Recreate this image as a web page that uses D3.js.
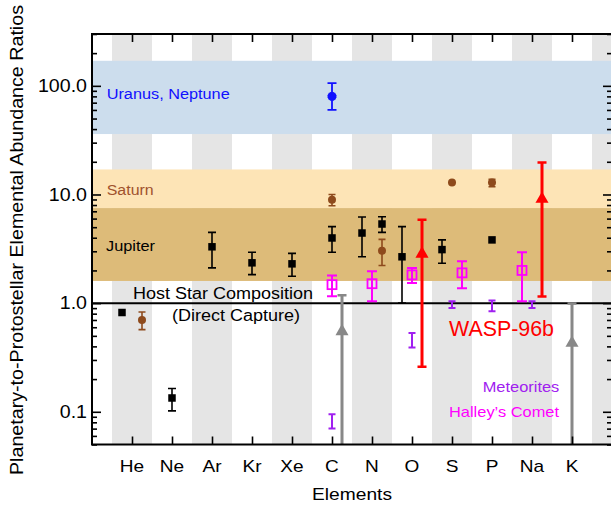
<!DOCTYPE html>
<html><head><meta charset="utf-8">
<script src="https://cdn.jsdelivr.net/npm/d3@7"></script>
<style>
body{margin:0;background:#fff}
svg{display:block}
text{font-family:"Liberation Sans",Arial,Helvetica,sans-serif}
</style>
</head><body>
<svg id="c" width="611" height="505"></svg>
<script>
// ---------------- DATA ----------------
const elements = ["He","Ne","Ar","Kr","Xe","C","N","O","S","P","Na","K"];
const yTickValues = [0.1, 1, 10, 100];
const yTickLabels = ["0.1","1.0","10.0","100.0"];

// Reference bands (low, high)
const bandNames = ["Uranus, Neptune","Saturn","Jupiter"];
const bandLow  = [36, 7.5, 1.6];
const bandHigh = [170, 17, 7.5];

// Jupiter (Galileo etc.)
const jupiterEl  = ["He","Ne","Ar","Kr","Xe","C","N","O","S","P"];
const jupiterVal = [0.82,0.134,3.3,2.35,2.3,3.98,4.42,2.67,3.11,3.82];
const jupiterLo  = [null,0.102,2.11,1.83,1.77,2.94,2.67,1.0,2.33,null];
const jupiterHi  = [null,0.164,4.48,2.94,2.87,5.06,6.21,5.06,3.82,null];

// Jupiter (Juno) nitrogen
const junoEl  = ["N"];
const junoVal = [5.35];
const junoLo  = [4.48];
const junoHi  = [6.24];

// Saturn
const saturnEl  = ["He","C","N","S","P"];
const saturnVal = [0.70,8.94,3.04,12.9,12.9];
const saturnLo  = [0.57,7.87,2.22,null,11.8];
const saturnHi  = [0.83,10.0,3.86,null,13.8];

// Uranus, Neptune
const iceEl  = ["C"];
const iceVal = [80];
const iceLo  = [60];
const iceHi  = [106];

// Halley's Comet
const halleyEl  = ["C","N","O","S","Na"];
const halleyVal = [1.48,1.51,1.82,1.90,2.0];
const halleyLo  = [1.16,1.04,1.53,1.37,1.04];
const halleyHi  = [1.80,1.97,2.11,2.43,2.94];

// Meteorites
const meteorEl  = ["C","O","S","P","Na"];
const meteorVal = [0.083,0.46,0.97,0.93,0.97];
const meteorLo  = [0.070,0.39,0.90,0.84,0.90];
const meteorHi  = [0.095,0.53,1.04,1.06,1.04];

// WASP-96b
const waspEl  = ["O","Na"];
const waspVal = [2.84,9.07];
const waspLo  = [0.26,1.15];
const waspHi  = [5.86,19.7];

// WASP-96b upper-limit style constraints (grey)
const limitEl  = ["C","K"];
const limitVal = [0.55,0.43];
const limitLo  = [0.01,0.01];
const limitHi  = [1.18,0.99];

// ---------------- LAYOUT / STYLE ----------------
const svg = d3.select("#c");
const plot = {left:92, right:612, top:34, bottom:444.5};

const x = d3.scalePoint().domain(elements).range([plot.left, plot.right]).padding(1);
const step = x.step();
const y = d3.scaleLog().domain([0.05, 300]).range([plot.bottom, plot.top]);

const dodgePx = step / 4;
const dodge = {
  jupiter:{He:-1,N:-1,O:-1,S:-1},
  juno:{N:1},
  saturn:{He:1,N:1},
  ice:{}, halley:{S:1,Na:-1}, meteor:{},
  wasp:{O:1,Na:1}, limit:{C:1}
};

svg.append("defs").append("clipPath").attr("id","clip")
  .append("rect").attr("x",plot.left).attr("y",plot.top)
  .attr("width",plot.right-plot.left).attr("height",plot.bottom-plot.top);

const gPlot = svg.append("g").attr("clip-path","url(#clip)");

// grey stripes
const stripeIdx = d3.range(0, elements.length + 1, 2);
gPlot.selectAll("rect.stripe").data(stripeIdx).join("rect")
  .attr("class","stripe")
  .attr("x", i => x(elements[0]) + i*step - step/2)
  .attr("width", step)
  .attr("y", plot.top).attr("height", plot.bottom-plot.top)
  .attr("fill","#e5e5e5");

// bands
const bandColors = ["#ccdded","#fde4b6","#ddbb79"];
gPlot.selectAll("rect.band").data(bandNames).join("rect")
  .attr("class","band")
  .attr("x", plot.left).attr("width", plot.right-plot.left)
  .attr("y", (d,i) => y(bandHigh[i]))
  .attr("height", (d,i) => y(bandLow[i]) - y(bandHigh[i]))
  .attr("fill", (d,i) => bandColors[i]);

// host star line
gPlot.append("line")
  .attr("x1",plot.left).attr("x2",plot.right)
  .attr("y1",y(1)).attr("y2",y(1))
  .attr("stroke","#000").attr("stroke-width",2);

// series drawing
function drawSeries(key, els, vals, lo, hi, st){
  const g = gPlot.append("g");
  els.forEach((e,i) => {
    const cx = x(e) + (dodge[key][e] || 0) * dodgePx;
    const cy = y(vals[i]);
    if (lo[i] != null && hi[i] != null){
      g.append("line").attr("x1",cx).attr("x2",cx)
        .attr("y1",y(lo[i])).attr("y2",y(hi[i]))
        .attr("stroke",st.color).attr("stroke-width",st.lw);
      const caps = st.noLowCap ? [hi[i]] : [lo[i], hi[i]];
      caps.forEach(v => g.append("line")
        .attr("x1",cx-st.cap/2).attr("x2",cx+st.cap/2)
        .attr("y1",y(v)).attr("y2",y(v))
        .attr("stroke",st.color).attr("stroke-width",st.capW || st.lw));
    }
    const m = st.marker;
    if (m === "square"){
      g.append("rect").attr("x",cx-st.ms/2).attr("y",cy-st.ms/2)
        .attr("width",st.ms).attr("height",st.ms).attr("fill",st.color);
    } else if (m === "open"){
      g.append("rect").attr("x",cx-st.ms/2).attr("y",cy-st.ms/2)
        .attr("width",st.ms).attr("height",st.ms).attr("fill","none")
        .attr("stroke",st.color).attr("stroke-width",1.8);
    } else if (m === "circle"){
      g.append("circle").attr("cx",cx).attr("cy",cy).attr("r",st.ms/2).attr("fill",st.color);
    } else if (m === "triangle"){
      g.append("path").attr("d", d3.symbol(d3.symbolTriangle, st.ms)())
        .attr("transform",`translate(${cx},${cy})`).attr("fill",st.color);
    } else if (m === "asterisk"){
      g.append("path").attr("d", d3.symbol(d3.symbolAsterisk, st.ms)())
        .attr("transform",`translate(${cx},${cy})`).attr("fill","none")
        .attr("stroke",st.color).attr("stroke-width",3);
      g.append("path").attr("d", d3.symbol(d3.symbolAsterisk, st.ms)())
        .attr("transform",`translate(${cx},${cy}) rotate(90)`).attr("fill","none")
        .attr("stroke",st.color).attr("stroke-width",2);
    }
  });
}

drawSeries("ice", iceEl, iceVal, iceLo, iceHi, {color:"#1010ff", lw:1.8, cap:9, marker:"asterisk", ms:55});
drawSeries("saturn", saturnEl, saturnVal, saturnLo, saturnHi, {color:"#8e4a1c", lw:1.6, cap:7, marker:"circle", ms:8});
drawSeries("jupiter", jupiterEl, jupiterVal, jupiterLo, jupiterHi, {color:"#000", lw:1.6, cap:8, marker:"square", ms:7.5});
drawSeries("juno", junoEl, junoVal, junoLo, junoHi, {color:"#000", lw:1.6, cap:8, marker:"square", ms:7.5});
drawSeries("halley", halleyEl, halleyVal, halleyLo, halleyHi, {color:"#ff00ff", lw:2, cap:10, marker:"open", ms:9});
drawSeries("meteor", meteorEl, meteorVal, meteorLo, meteorHi, {color:"#a020f0", lw:2, cap:7, marker:"none"});
drawSeries("limit", limitEl, limitVal, limitLo, limitHi, {color:"#888888", lw:3, cap:9, capW:2.5, marker:"triangle", ms:74, noLowCap:true});
drawSeries("wasp", waspEl, waspVal, waspLo, waspHi, {color:"#ff0000", lw:3, cap:9, capW:2.5, marker:"triangle", ms:74});

// ---------------- AXES ----------------
const minorVals = y.ticks().filter(v => Math.abs(Math.log10(v) - Math.round(Math.log10(v))) > 1e-6);

function ticks(gen, tx, ty){
  const g = svg.append("g").attr("transform",`translate(${tx},${ty})`).call(gen);
  g.select(".domain").remove();
  g.selectAll("line").attr("stroke","#000").attr("stroke-width",1.6);
  return g;
}
ticks(d3.axisLeft(y).tickValues(yTickValues).tickSize(-9).tickFormat(""), plot.left, 0);
ticks(d3.axisLeft(y).tickValues(minorVals).tickSize(-5).tickFormat(""), plot.left, 0);
ticks(d3.axisRight(y).tickValues(yTickValues).tickSize(-9).tickFormat(""), plot.right, 0);
ticks(d3.axisRight(y).tickValues(minorVals).tickSize(-5).tickFormat(""), plot.right, 0);
ticks(d3.axisTop(x).tickSize(-8).tickFormat(""), 0, plot.top);
ticks(d3.axisBottom(x).tickSize(-8).tickFormat(""), 0, plot.bottom);

// frame
svg.append("rect").attr("x",plot.left).attr("y",plot.top)
  .attr("width",plot.right-plot.left).attr("height",plot.bottom-plot.top)
  .attr("fill","none").attr("stroke","#000").attr("stroke-width",2);

// stretch helper (original font is wider)
function stretch(sel, f){
  sel.each(function(){
    const w = this.getComputedTextLength();
    this.setAttribute("textLength", w*f);
    this.setAttribute("lengthAdjust","spacingAndGlyphs");
  });
}
function fit(sel, w){ sel.attr("textLength", w).attr("lengthAdjust","spacingAndGlyphs"); }

// tick labels
const yl = svg.selectAll("text.yl").data(yTickValues).join("text").attr("class","yl")
  .attr("x", plot.left - 5).attr("y", d => y(d) + 6.3)
  .attr("text-anchor","end").attr("font-size",17.5).attr("fill","#000")
  .text((d,i) => yTickLabels[i]);
stretch(yl, 1.12);

const xl = svg.selectAll("text.xl").data(elements).join("text").attr("class","xl")
  .attr("x", d => x(d)).attr("y", 472)
  .attr("text-anchor","middle").attr("font-size",17).attr("fill","#000")
  .text(d => d);
stretch(xl, 1.12);

// axis titles
fit(svg.append("text").attr("x",(plot.left+plot.right)/2).attr("y",500)
  .attr("text-anchor","middle").attr("font-size",17).text("Elements"), 80);
fit(svg.append("text").attr("transform","translate(23.3,240) rotate(-90)")
  .attr("text-anchor","middle").attr("font-size",17.5)
  .text("Planetary-to-Protostellar Elemental Abundance Ratios"), 470);

// annotations
function label(txt, tx, ty, size, color, w, anchor){
  fit(svg.append("text").attr("x",tx).attr("y",ty).attr("font-size",size)
    .attr("fill",color).attr("text-anchor",anchor||"start").text(txt), w);
}
label(bandNames[0], 106.7, 99, 15.5, "#1010ff", 123);
label(bandNames[1], 106.7, 195, 15.5, "#a0522d", 47);
label(bandNames[2], 106, 251, 15.5, "#000", 49);
label("Host Star Composition", 223, 299, 16, "#000", 180, "middle");
label("(Direct Capture)", 236, 320.7, 16, "#000", 128, "middle");
label("WASP-96b", 449, 336, 21.5, "#ff0000", 105);
label("Meteorites", 482.7, 392, 15, "#a020f0", 76.6);
label("Halley\u2019s Comet", 449, 416.7, 15, "#ff00ff", 110);
</script>
</body></html>
